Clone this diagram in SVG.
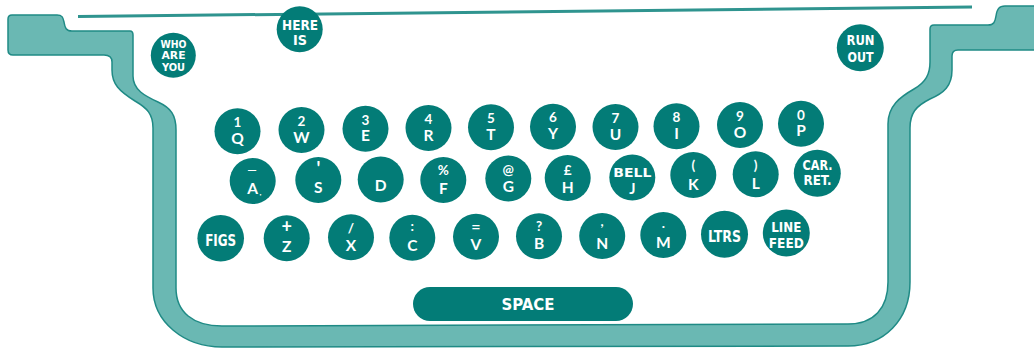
<svg xmlns="http://www.w3.org/2000/svg" width="1034" height="349" viewBox="0 0 1034 349">
<style>
.key{fill:#037c77}
.lt{font-family:Lato,'Open Sans',sans-serif;font-weight:bold;font-size:15.5px;fill:#fff;text-anchor:middle}
.fg{font-family:Lato,'Open Sans',sans-serif;font-weight:bold;font-size:13.5px;fill:#fff;text-anchor:middle}
.cd{font-family:'DejaVu Sans Condensed','DejaVu Sans',sans-serif;font-weight:bold;font-size:16px;fill:#fff;text-anchor:middle}
.sm{font-size:14px}
.xs{font-size:10.5px}
.band{fill:#6ab8b3;stroke:#1f8a85;stroke-width:1.5;stroke-linejoin:round}
</style>
<rect width="1034" height="349" fill="#fff"/>
<g id="frame">
<path class="band" d="M12 15 L57 15 C62 15 63 17 64 22 C65 28 66 31 72 31 L130 31 Q133 31 133 35 L133 76 C133 90 145 96 158 102 C171 108 176 115 176 130 L176 288 C176 312 193 326 222 326 L848 324 C874 324 888 308 888 282 L888 124 C888 106 900 97 914 89 C926 82 930 74 930 62 L930 29 Q930 25 934 25 L988 25 C994 25 995 22 996 16 C997 9 999 6 1005 6 L1036 6 L1036 50 L958 50 Q952 50 952 56 L952 70 C952 86 944 93 930 99 C916 106 910 113 910 128 L910 282 C910 320 884 346 848 346 L222 347 C184 347 153 322 153 288 L153 128 C153 114 147 108 135 101 C119 91 112 84 112 70 L112 62 C112 57 109 55 104 55 L13 55 Q8 55 8 50 L8 19 Q8 15 12 15 Z"/>
<line x1="78" y1="16.5" x2="972" y2="7" stroke="#2f948f" stroke-width="3"/>
</g>
<g id="key-who-are-you"><circle class="key" cx="173.3" cy="55.3" r="22.5"/>
<text class="cd xs" x="173.5" y="48" textLength="26" lengthAdjust="spacingAndGlyphs">WHO</text>
<text class="cd xs" x="173.5" y="59.3" textLength="24" lengthAdjust="spacingAndGlyphs">ARE</text>
<text class="cd xs" x="173.5" y="70.6" textLength="23" lengthAdjust="spacingAndGlyphs">YOU</text></g>
<g id="key-here-is"><circle class="key" cx="299.7" cy="29.2" r="23"/>
<text class="cd sm" x="300" y="29.5" textLength="36" lengthAdjust="spacingAndGlyphs">HERE</text>
<text class="cd sm" x="300" y="45" textLength="14" lengthAdjust="spacingAndGlyphs">IS</text></g>
<g id="key-run-out"><circle class="key" cx="860.3" cy="47.8" r="23.5"/>
<text class="cd sm" x="860.5" y="44.5" textLength="28" lengthAdjust="spacingAndGlyphs">RUN</text>
<text class="cd sm" x="860.5" y="62" textLength="26" lengthAdjust="spacingAndGlyphs">OUT</text></g>

<g id="key-Q"><circle class="key" cx="237.5" cy="131.3" r="23"/><text class="fg" x="237.5" y="127">1</text><text class="lt" x="237.5" y="144">Q</text></g>
<g id="key-W"><circle class="key" cx="301.5" cy="130" r="23"/><text class="fg" x="301.5" y="125.7">2</text><text class="lt" x="301.5" y="142.5">W</text></g>
<g id="key-E"><circle class="key" cx="365.5" cy="128.8" r="23"/><text class="fg" x="365.5" y="124.5">3</text><text class="lt" x="365.5" y="141.3">E</text></g>
<g id="key-R"><circle class="key" cx="428.5" cy="128" r="23"/><text class="fg" x="428.5" y="123.7">4</text><text class="lt" x="428.5" y="140.5">R</text></g>
<g id="key-T"><circle class="key" cx="491" cy="127.2" r="23"/><text class="fg" x="491" y="122.9">5</text><text class="lt" x="491" y="139.7">T</text></g>
<g id="key-Y"><circle class="key" cx="553" cy="126.7" r="23"/><text class="fg" x="553" y="122.4">6</text><text class="lt" x="553" y="139.2">Y</text></g>
<g id="key-U"><circle class="key" cx="615.5" cy="127" r="23"/><text class="fg" x="615.5" y="122.7">7</text><text class="lt" x="615.5" y="139.5">U</text></g>
<g id="key-I"><circle class="key" cx="676.5" cy="126.2" r="23"/><text class="fg" x="676.5" y="121.9">8</text><text class="lt" x="676.5" y="138.7">I</text></g>
<g id="key-O"><circle class="key" cx="740" cy="125" r="23"/><text class="fg" x="740" y="120.7">9</text><text class="lt" x="740" y="137.5">O</text></g>
<g id="key-P"><circle class="key" cx="801" cy="123.8" r="23"/><text class="fg" x="801" y="119.5">0</text><text class="lt" x="801" y="136.3">P</text></g>

<g id="key-A"><circle class="key" cx="252.7" cy="181" r="23"/><text class="fg" style="font-size:12px" x="252" y="173.5">—</text><text class="lt" x="252.7" y="194">A</text><text class="fg" style="font-size:8px" x="260.5" y="195">,</text></g>
<g id="key-S"><circle class="key" cx="318.3" cy="180" r="23"/><text class="fg" style="font-size:18px" x="318.3" y="174.5">'</text><text class="lt" x="318.3" y="193">S</text></g>
<g id="key-D"><circle class="key" cx="380.7" cy="179.5" r="23"/><text class="lt" x="380.7" y="191">D</text></g>
<g id="key-F"><circle class="key" cx="443.3" cy="180" r="23"/><text class="fg" x="443.3" y="175">%</text><text class="lt" x="443.3" y="194">F</text></g>
<g id="key-G"><circle class="key" cx="508.3" cy="178.5" r="23"/><text class="fg" x="508.3" y="174.5">@</text><text class="lt" x="508.3" y="192">G</text></g>
<g id="key-H"><circle class="key" cx="567.7" cy="178" r="23"/><text class="fg" x="567.7" y="175">£</text><text class="lt" x="567.7" y="192.5">H</text></g>
<g id="key-J"><circle class="key" cx="632.3" cy="177.5" r="23"/><text class="cd" style="font-size:13px" x="632.3" y="177.3" textLength="38" lengthAdjust="spacingAndGlyphs">BELL</text><text class="lt" style="font-size:14.5px" x="632.3" y="193.5">J</text></g>
<g id="key-K"><circle class="key" cx="693.3" cy="175" r="23"/><text class="fg" x="693.3" y="170">(</text><text class="lt" x="693.3" y="190">K</text></g>
<g id="key-L"><circle class="key" cx="755.7" cy="174.3" r="23"/><text class="fg" x="755.7" y="169.5">)</text><text class="lt" x="755.7" y="188.5">L</text></g>
<g id="key-car-ret"><circle class="key" cx="817.3" cy="173.3" r="23.5"/><text class="cd sm" x="817.5" y="169.5" textLength="30" lengthAdjust="spacingAndGlyphs">CAR.</text><text class="cd sm" x="817.5" y="185" textLength="28" lengthAdjust="spacingAndGlyphs">RET.</text></g>

<g id="key-figs"><circle class="key" cx="220.7" cy="238.3" r="23.3"/><text class="cd" x="220.7" y="245.7" textLength="31" lengthAdjust="spacingAndGlyphs">FIGS</text></g>
<g id="key-Z"><circle class="key" cx="286.7" cy="238.3" r="23"/><text class="fg" style="font-size:18px" x="286.7" y="233">+</text><text class="lt" x="286.7" y="251.5">Z</text></g>
<g id="key-X"><circle class="key" cx="351" cy="237.2" r="23"/><text class="fg" x="351" y="233">/</text><text class="lt" x="351" y="250.5">X</text></g>
<g id="key-C"><circle class="key" cx="412.3" cy="237.8" r="23"/><text class="fg" x="412.3" y="231">:</text><text class="lt" x="412.3" y="250.5">C</text></g>
<g id="key-V"><circle class="key" cx="476" cy="236.7" r="23"/><text class="fg" style="font-size:16px" x="476" y="231.5">=</text><text class="lt" x="476" y="249.5">V</text></g>
<g id="key-B"><circle class="key" cx="539" cy="236.2" r="23"/><text class="fg" x="539" y="231">?</text><text class="lt" x="539" y="249">B</text></g>
<g id="key-N"><circle class="key" cx="602.2" cy="236" r="23"/><text class="fg" x="602.2" y="226">,</text><text class="lt" x="602.2" y="249">N</text></g>
<g id="key-M"><circle class="key" cx="663.3" cy="235" r="23"/><text class="fg" x="663.3" y="228">.</text><text class="lt" x="663.3" y="248">M</text></g>
<g id="key-ltrs"><circle class="key" cx="724.5" cy="234.2" r="23.5"/><text class="cd" x="724.5" y="241.7" textLength="33" lengthAdjust="spacingAndGlyphs">LTRS</text></g>
<g id="key-line-feed"><circle class="key" cx="786.3" cy="233" r="23.5"/><text class="cd sm" x="786.3" y="231.5" textLength="30" lengthAdjust="spacingAndGlyphs">LINE</text><text class="cd sm" x="786.3" y="248" textLength="35" lengthAdjust="spacingAndGlyphs">FEED</text></g>

<g id="key-space"><rect class="key" x="413" y="287" width="220" height="34" rx="17"/><text class="cd" x="528" y="310" textLength="53" lengthAdjust="spacingAndGlyphs">SPACE</text></g>
</svg>
